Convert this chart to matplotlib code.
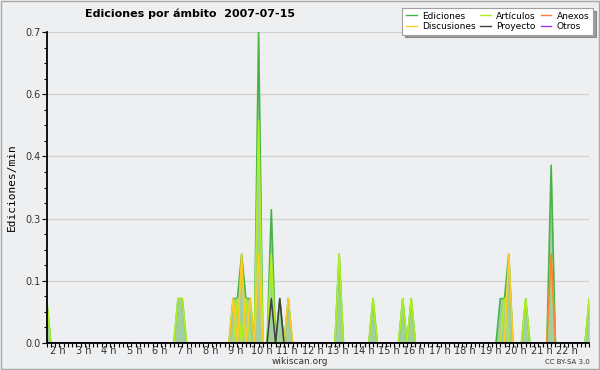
import numpy as np
import matplotlib.pyplot as plt
from matplotlib.patches import Rectangle

# samples every 10 minutes, values in edits/min
n_points = 129
start_hour = 1.55
step = 1 / 6

ediciones_idx = [0, 31, 32, 44, 45, 46, 47, 48, 50, 53, 55, 57, 69, 77, 84, 86, 107, 108, 109, 113, 119, 128]
ediciones_val = [0.1, 0.1, 0.1, 0.1, 0.1, 0.2, 0.1, 0.1, 0.7, 0.3, 0.1, 0.1, 0.2, 0.1, 0.1, 0.1, 0.1, 0.1, 0.2, 0.1, 0.4, 0.1]
articulos_idx = [0, 31, 32, 45, 47, 50, 53, 69, 77, 84, 86, 108, 113, 119, 128]
articulos_val = [0.1, 0.1, 0.1, 0.1, 0.1, 0.5, 0.2, 0.2, 0.1, 0.1, 0.1, 0.1, 0.1, 0.2, 0.1]
discusiones_idx = [44, 46, 48, 50, 57, 109]
discusiones_val = [0.1, 0.2, 0.1, 0.2, 0.1, 0.2]
proyecto_idx = [53, 55]
proyecto_val = [0.1, 0.1]
anexos_idx = [119]
anexos_val = [0.2]
otros_idx = []
otros_val = []

hour_ticks = list(range(2, 23))
hour_labels = [f"{h} h" for h in hour_ticks]
y_ticks = [0, 0.14, 0.28, 0.42, 0.56, 0.7]
y_labels = ["0.0", "0.1", "0.3", "0.4", "0.6", "0.7"]


def series(idx, val):
    s = np.zeros(n_points)
    s[idx] = val
    return s


t = start_hour + np.arange(n_points) * step
ediciones = series(ediciones_idx, ediciones_val)
articulos = series(articulos_idx, articulos_val)
discusiones = series(discusiones_idx, discusiones_val)
proyecto = series(proyecto_idx, proyecto_val)
anexos = series(anexos_idx, anexos_val)
otros = series(otros_idx, otros_val)

bg = '#eeeff1'
fig = plt.figure(figsize=(6, 3.7), dpi=100, facecolor=bg)
fig.patches.append(Rectangle((0.001, 0.002), 0.997, 0.996, transform=fig.transFigure,
                             fill=False, edgecolor='#a8a8a8', lw=1))
ax = fig.add_axes([46.6 / 600, 27 / 370, 542.7 / 600, 311 / 370])
ax.set_facecolor(bg)

ax.fill_between(t, ediciones, color='#a2cfa2', lw=0)
l_ed, = ax.plot(t, ediciones, color='#46b446', lw=1.2)
l_art, = ax.plot(t, articulos, color='#b0f020', lw=1.2)
l_anx, = ax.plot(t, anexos, color='#ff7f3a', lw=1.2)
l_dis, = ax.plot(t, discusiones, color='#ffcc22', lw=1.2)
l_pro, = ax.plot(t, proyecto, color='#404040', lw=1.1)
l_otr, = ax.plot(t, otros, color='#9933ff', lw=1.1)

ax.set_xlim(t[0], t[-1])
ax.set_ylim(0, 0.7)
ax.set_yticks(y_ticks, y_labels)
ax.set_yticks(np.arange(0, 0.7001, 0.035), minor=True)
ax.set_xticks(hour_ticks, hour_labels)
ax.set_xticks(t, minor=True)
ax.tick_params(axis='x', which='major', length=0, pad=2.5, labelsize=7, labelcolor='#333333')
ax.tick_params(axis='x', which='minor', length=3, width=0.8)
ax.tick_params(axis='y', which='major', length=3.5, width=0.8, pad=1, labelsize=7, labelcolor='#333333')
ax.tick_params(axis='y', which='minor', length=2.5, width=0.8)
for s in ['top', 'right']:
    ax.spines[s].set_visible(False)
for s in ['left', 'bottom']:
    ax.spines[s].set_linewidth(1.3)
    ax.spines[s].set_zorder(3)
ax.yaxis.grid(True, color='#d0d0d0', lw=0.9)
ax.set_axisbelow(True)

ax.set_ylabel('Ediciones/min', family='DejaVu Sans Mono', fontsize=8, labelpad=6)

fig.text(85 / 600, 1 - 14 / 370, 'Ediciones por ámbito  2007-07-15', fontsize=8,
         fontweight='bold', ha='left', va='center')
fig.text(300 / 600, 1 - 361 / 370, 'wikiscan.org', fontsize=6.5, ha='center', va='center', color='#333333')
fig.text(590 / 600, 1 - 362 / 370, 'CC BY-SA 3.0', fontsize=5, ha='right', va='center', color='#333333')

leg = fig.legend([l_ed, l_dis, l_art, l_pro, l_anx, l_otr],
                 ['Ediciones', 'Discusiones', 'Artículos', 'Proyecto', 'Anexos', 'Otros'],
                 ncol=3, loc='upper right', bbox_to_anchor=(593 / 600, 1 - 8 / 370),
                 fontsize=6.5, frameon=True, fancybox=False, shadow=True,
                 handlelength=1.2, handletextpad=0.6, columnspacing=0.5,
                 labelspacing=0.15, borderpad=0.4, borderaxespad=0)
leg.get_frame().set_edgecolor('#a0a0a0')
leg.get_frame().set_linewidth(0.8)
for h in leg.legend_handles:
    h.set_linewidth(1)

fig.savefig('out.png', dpi=100, facecolor=fig.get_facecolor())
